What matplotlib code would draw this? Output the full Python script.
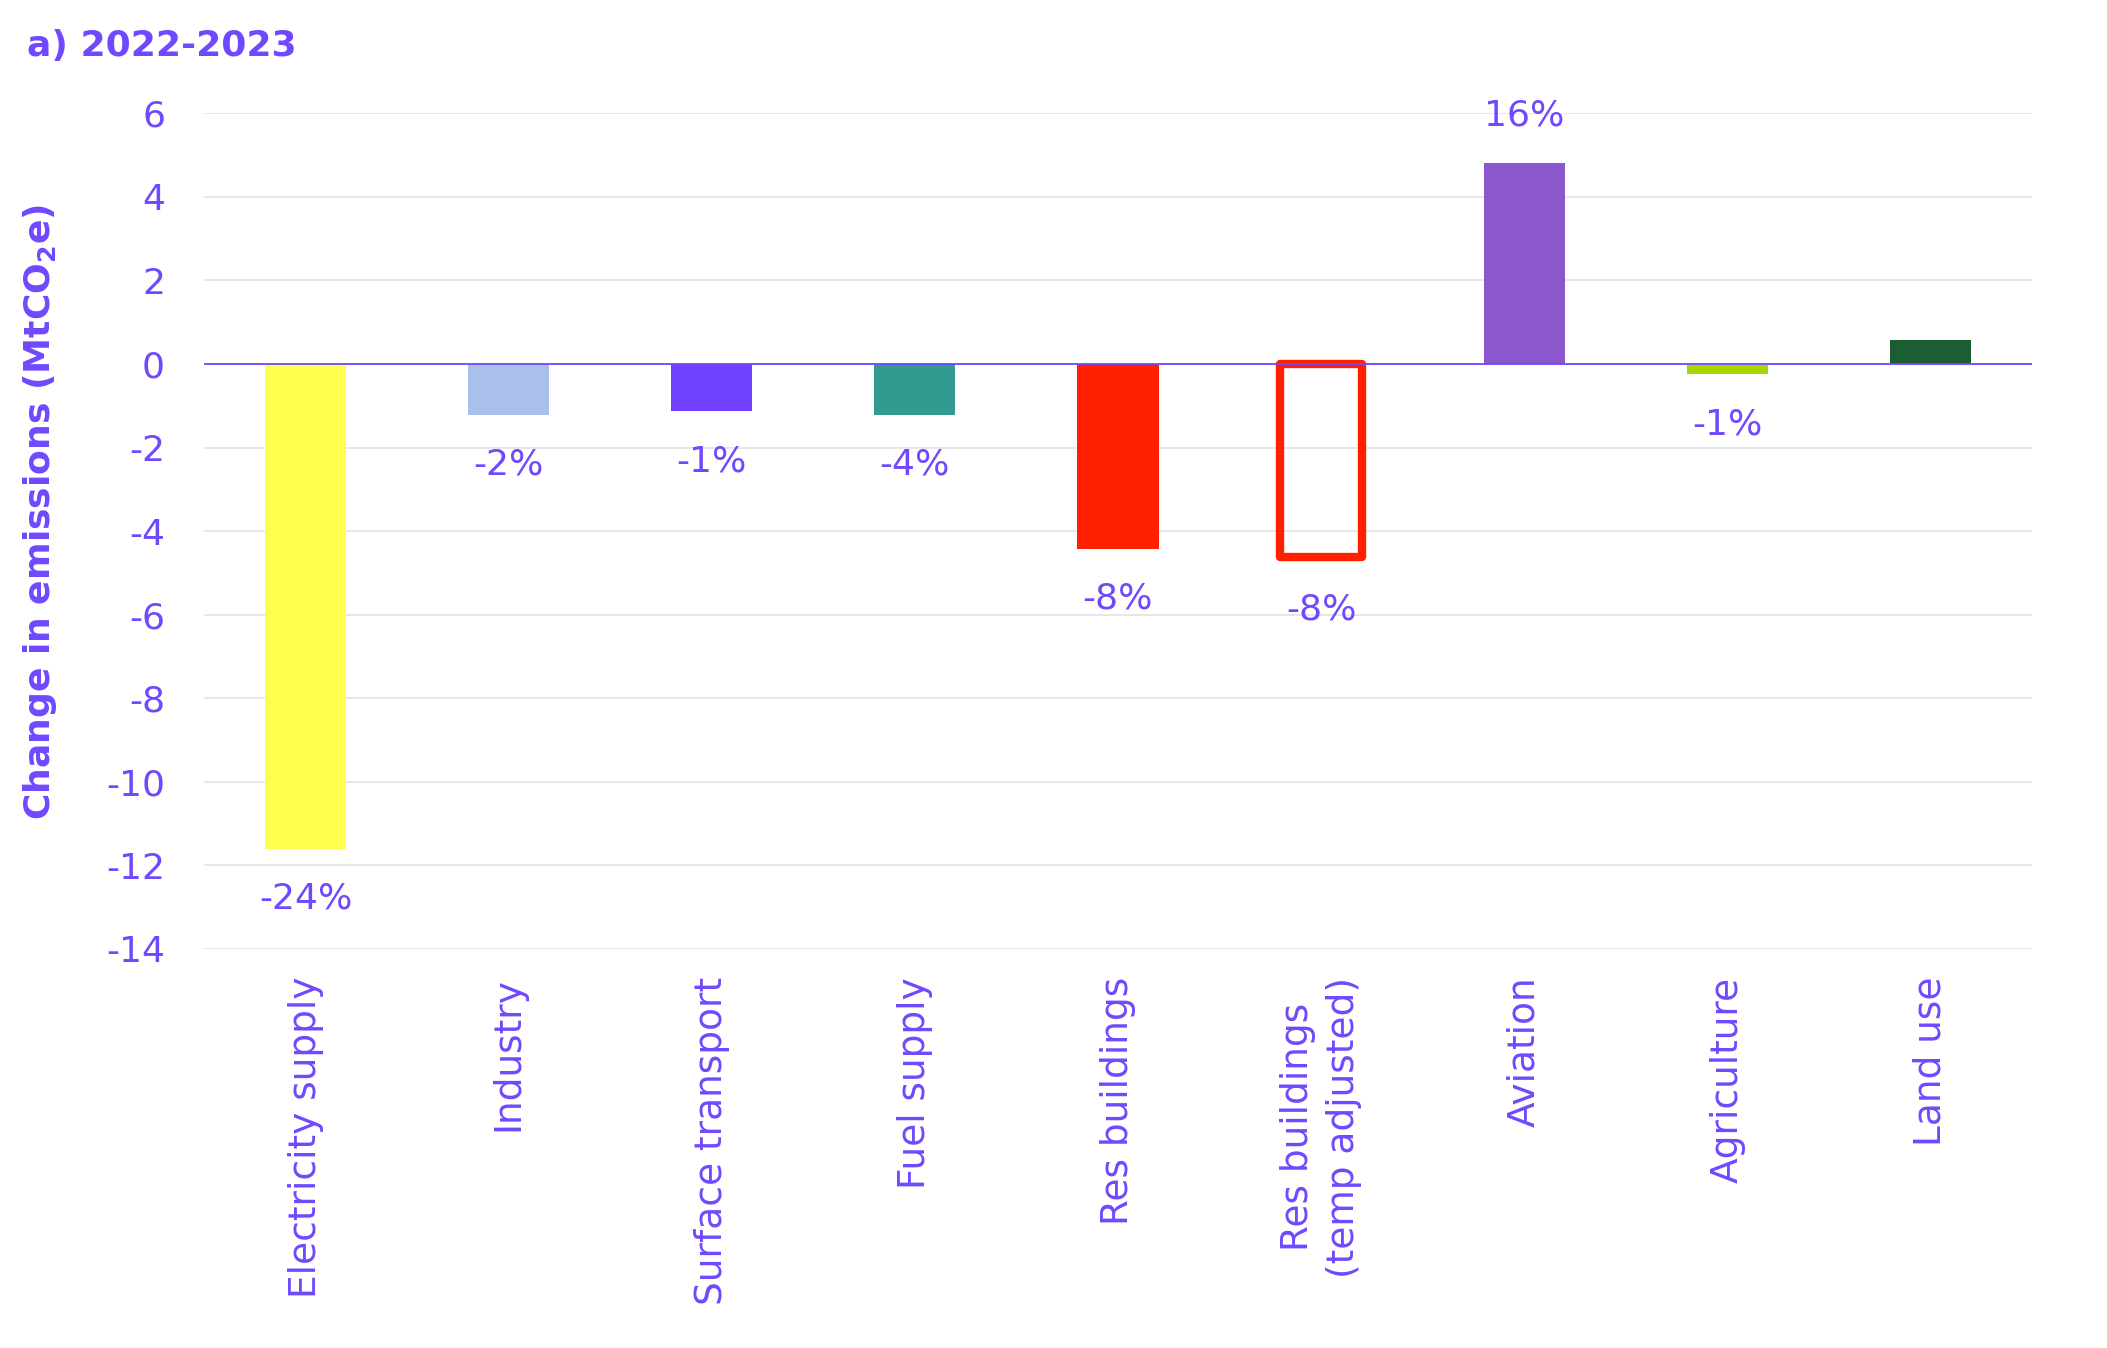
import matplotlib
matplotlib.use('Agg')
import matplotlib.pyplot as plt
import numpy as np

# data
sectors = ['Electricity supply', 'Industry', 'Surface transport', 'Fuel supply',
           'Res buildings', 'Res buildings\n(temp adjusted)', 'Aviation',
           'Agriculture', 'Land use']
changes = [-11.6, -1.22, -1.13, -1.22, -4.42, -4.62, 4.82, -0.25, 0.57]
pct_labels = ['-24%', '-2%', '-1%', '-4%', '-8%', '-8%', '16%', '-1%', '']
bar_colors = ['#FFFF4D', '#A9C1EA', '#7040FF', '#339A92', '#FF2000',
              'none', '#8B58CC', '#A6D800', '#1B5E33']
yticks = [6, 4, 2, 0, -2, -4, -6, -8, -10, -12, -14]

purple = '#7048FF'

plt.rcParams['font.family'] = ['DejaVu Sans']

fig = plt.figure(figsize=(21.07, 13.48), dpi=100)
ax = fig.add_axes([0.0968, 0.296, 0.8676, 0.62])

x = np.arange(len(sectors))
for i in range(len(sectors)):
    if bar_colors[i] == 'none':
        ax.bar(x[i], changes[i], width=0.4, facecolor='none', edgecolor='#FF2000',
               linewidth=6, joinstyle='round', zorder=3)
    else:
        ax.bar(x[i], changes[i], width=0.4, color=bar_colors[i], zorder=3)

# percentage labels
for i in range(len(sectors)):
    if pct_labels[i] == '':
        continue
    off = 34 if changes[i] > 0 else -36
    if bar_colors[i] == 'none':
        off = -38
    ax.annotate(pct_labels[i], (x[i], changes[i]), xytext=(0, off),
                textcoords='offset points', ha='center', va='center',
                fontsize=26, color=purple)

ax.set_xlim(-0.5, len(sectors) - 0.5)
ax.set_ylim(-14, 6)
ax.set_yticks(yticks)
ax.set_yticklabels([str(t) for t in yticks])
ax.set_xticks(x)
ax.set_xticklabels(sectors, rotation=90, ha='center', va='top', linespacing=1.35)
ax.tick_params(axis='y', length=0, labelsize=26, labelcolor=purple, pad=28)
ax.tick_params(axis='x', length=0, labelsize=27, labelcolor=purple, pad=20)

ax.grid(axis='y', color='#E3E3E3', linewidth=1.2, zorder=0)
ax.axhline(0, color=purple, linewidth=1.3, zorder=4)
for s in ax.spines.values():
    s.set_visible(False)

fig.text(0.019, 0.620, r'Change in emissions (MtCO$_\mathbf{2}$e)', rotation=90,
         ha='center', va='center', fontsize=26, fontweight='bold', color=purple)
fig.text(0.013, 0.966, 'a) 2022-2023', ha='left', va='center',
         fontsize=26, fontweight='bold', color=purple)

fig.savefig('out.png', dpi=100)
